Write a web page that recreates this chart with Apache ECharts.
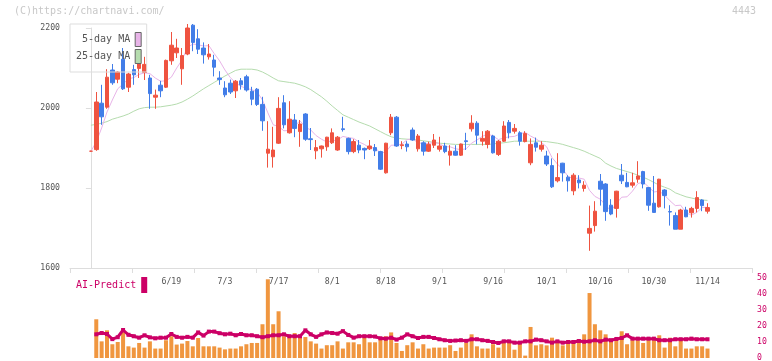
<!DOCTYPE html>
<html><head><meta charset="utf-8">
<script src="https://cdn.jsdelivr.net/npm/echarts@6/dist/echarts.min.js"></script>
<style>html,body{margin:0;padding:0;background:#fff}#c{width:772px;height:361px}</style>
</head><body><div id="c"></div>
<script>
const dates = ['5/29','5/30','6/2','6/3','6/4','6/5','6/6','6/9','6/10','6/11',
'6/12','6/13','6/16','6/17','6/18','6/19','6/20','6/23','6/24','6/25',
'6/26','6/27','6/30','7/1','7/2','7/3','7/4','7/7','7/8','7/9',
'7/10','7/11','7/14','7/15','7/16','7/17','7/18','7/22','7/23','7/24',
'7/25','7/28','7/29','7/30','7/31','8/1','8/4','8/5','8/6','8/7',
'8/8','8/12','8/13','8/14','8/15','8/18','8/19','8/20','8/21','8/22',
'8/25','8/26','8/27','8/28','8/29','9/1','9/2','9/3','9/4','9/5',
'9/8','9/9','9/10','9/11','9/12','9/16','9/17','9/18','9/19','9/22',
'9/24','9/25','9/26','9/29','9/30','10/1','10/2','10/3','10/6','10/7',
'10/8','10/9','10/10','10/14','10/15','10/16','10/17','10/20','10/21','10/22',
'10/23','10/24','10/27','10/28','10/29','10/30','10/31','11/4','11/5','11/6',
'11/7','11/10','11/11','11/12','11/13','11/14'];
const labelDates = ['6/19','7/3','7/17','8/1','8/18','9/1','9/16','10/1','10/16','10/30','11/14'];

const opens = [1892,1896,2012,2002,2095,2072,2122,2052,2096,2099,
2089,2075,2027,2057,2052,2118,2138,2098,2135,2207,
2173,2150,2128,2120,2075,2050,2062,2043,2068,2078,
2042,2047,2009,1887,1878,1912,2013,1938,1970,1941,
1985,1923,1893,1898,1903,1913,1895,1948,1924,1891,
1907,1899,1898,1901,1891,1838,1938,1977,1906,1910,
1945,1898,1913,1892,1907,1897,1905,1882,1892,1882,
1918,1948,1962,1917,1909,1930,1884,1917,1964,1942,
1938,1916,1863,1913,1897,1880,1856,1818,1862,1827,
1793,1820,1799,1687,1706,1817,1810,1757,1749,1832,
1814,1807,1822,1841,1801,1762,1753,1795,1741,1731,
1697,1745,1738,1749,1770,1742];
const closes = [1892,2015,1978,2077,2063,2090,2048,2085,2083,2116,
2109,2036,2032,2043,2119,2157,2150,2131,2200,2164,
2147,2133,2135,2102,2071,2033,2040,2067,2058,2045,
2022,2009,1968,1897,1895,1999,1958,1972,1949,1960,
1922,1921,1901,1905,1927,1938,1927,1946,1891,1916,
1895,1895,1905,1893,1847,1912,1977,1905,1908,1903,
1920,1930,1892,1909,1920,1905,1891,1892,1882,1910,
1916,1962,1932,1924,1942,1888,1917,1955,1938,1949,
1917,1936,1909,1902,1907,1860,1803,1826,1838,1818,
1832,1813,1807,1699,1742,1797,1741,1735,1792,1818,
1803,1813,1830,1810,1757,1739,1822,1781,1740,1697,
1745,1728,1749,1776,1756,1751];
const lows = [1891,1893,1958,1998,2058,2062,2045,2040,2058,2075,
2070,1998,1998,2027,2050,2108,2125,2058,2132,2142,
2135,2111,2121,2079,2058,2027,2035,2025,2046,2041,
2007,2005,1943,1851,1851,1910,1949,1936,1927,1903,
1918,1895,1872,1876,1893,1910,1893,1941,1884,1887,
1887,1872,1895,1880,1845,1836,1932,1903,1897,1891,
1918,1891,1881,1890,1900,1891,1887,1856,1881,1880,
1895,1941,1909,1906,1899,1886,1880,1915,1924,1936,
1906,1914,1857,1891,1891,1855,1800,1814,1816,1791,
1782,1799,1791,1643,1691,1756,1718,1732,1726,1810,
1802,1801,1813,1799,1743,1738,1751,1749,1706,1697,
1697,1727,1726,1739,1742,1736];
const highs = [1893,2040,2058,2097,2110,2092,2150,2088,2108,2126,
2128,2083,2046,2068,2121,2190,2173,2150,2210,2210,
2197,2164,2160,2133,2092,2067,2071,2070,2075,2083,
2053,2050,2028,1967,1953,2027,2032,2017,1985,1970,
1987,1950,1920,1906,1928,1949,1930,1978,1926,1922,
1920,1901,1920,1910,1893,1913,1985,1980,1917,1917,
1951,1935,1917,1916,1935,1928,1913,1907,1907,1911,
1938,1982,1967,1942,1945,1933,1920,1967,1970,1960,
1942,1942,1924,1926,1917,1893,1874,1887,1863,1832,
1837,1832,1817,1756,1767,1835,1812,1772,1793,1860,
1838,1838,1867,1843,1802,1830,1823,1797,1757,1739,
1748,1753,1753,1792,1772,1762];
const ma5 = [1892,1915,1950,1990,2020,2048,2060,2073,2076,2084,
2088,2086,2075,2067,2068,2077,2100,2120,2151,2160,
2158,2155,2156,2136,2118,2095,2076,2063,2054,2049,
2046,2040,2020,1988,1958,1954,1943,1944,1955,1968,
1952,1945,1931,1922,1915,1918,1920,1929,1926,1924,
1915,1909,1900,1901,1887,1890,1907,1907,1910,1921,
1923,1913,1911,1911,1914,1911,1903,1903,1898,1896,
1898,1912,1920,1929,1935,1930,1921,1925,1928,1929,
1935,1939,1930,1923,1914,1903,1876,1860,1847,1829,
1823,1825,1822,1794,1779,1772,1757,1743,1761,1777,
1778,1792,1811,1815,1803,1790,1792,1782,1768,1756,
1757,1738,1732,1739,1751,1752];
const ma25 = [1957,1959,1962,1966,1972,1976,1980,1985,1992,1998,
2001,2002,2002,2003,2005,2007,2010,2015,2022,2030,
2039,2048,2056,2064,2072,2080,2087,2094,2097,2097,
2097,2095,2090,2083,2075,2068,2066,2064,2062,2058,
2053,2046,2037,2028,2017,2005,1994,1983,1977,1971,
1965,1960,1955,1948,1941,1934,1928,1925,1923,1922,
1921,1920,1918,1916,1914,1912,1911,1910,1909,1909,
1909,1909,1909,1909,1909,1910,1912,1913,1915,1917,
1917,1917,1917,1917,1917,1916,1914,1912,1909,1905,
1901,1897,1892,1886,1880,1874,1862,1855,1849,1845,
1841,1837,1832,1827,1821,1814,1807,1802,1797,1788,
1783,1778,1775,1772,1770,1769];
const volume = [null,24.2,10.4,17.3,8.6,10.0,17.3,7.3,6.5,9.4,
6.5,10.4,5.9,5.9,11.1,13.6,8.4,9.0,10.6,7.3,
12.5,7.3,7.3,7.3,6.5,5.4,5.9,5.9,7.3,8.6,
9.4,9.4,21.1,49.2,21.1,29.2,13.6,12.5,15.6,12.7,
13.1,10.4,9.0,5.9,8.0,8.0,10.4,5.9,9.8,9.8,
8.6,12.7,9.8,9.8,12.1,13.6,16.0,9.4,4.4,8.0,
9.8,5.9,8.6,5.9,6.5,6.5,6.5,8.0,4.4,6.5,
9.4,14.8,7.3,5.9,5.9,8.6,6.5,9.4,11.1,5.2,
9.0,1.5,19.4,7.9,8.6,7.9,12.7,9.4,7.9,9.4,
11.1,11.5,14.8,40.6,21.1,17.3,14.8,11.1,11.1,16.7,
8.6,11.1,11.1,9.4,11.1,11.1,14.2,6.5,12.7,7.3,
11.1,5.9,5.9,7.3,7.3,5.9];
const aiPredict = [null,14.8,15.6,15.0,11.8,13.0,17.5,14.5,13.6,12.7,
14.2,12.9,12.3,12.7,12.7,15.0,13.2,12.7,13.2,12.7,
16.0,14.0,16.5,16.5,15.5,14.8,15.2,14.2,15.0,14.2,
14.2,13.6,13.0,13.6,14.2,14.2,14.8,13.6,13.6,13.6,
17.3,14.8,13.2,14.8,16.0,15.6,15.2,16.8,14.4,12.7,
13.6,13.6,13.6,13.4,12.3,12.1,12.7,11.5,12.7,14.8,
13.6,12.5,13.2,13.2,12.5,11.7,11.1,10.7,10.9,11.1,
10.7,11.7,11.7,11.1,10.7,10.0,9.4,10.4,10.4,9.6,
9.6,10.4,10.4,11.5,11.1,10.4,9.6,10.4,9.6,10.0,
10.0,10.6,10.2,10.4,11.1,10.4,11.5,11.1,11.9,12.5,
14.2,12.1,12.1,12.1,12.1,12.1,11.1,11.1,11.1,11.7,
11.7,11.7,12.1,11.7,11.7,11.7];

const MONO = 'DejaVu Sans Mono';
const UP = '#ef5340', DOWN = '#427de8', AI = '#cc0066';
const candleData = dates.map((d, i) => [i, opens[i], closes[i], lows[i], highs[i]]);
const pair = arr => arr.map((v, i) => [i, v]);
const labelIdx = labelDates.map(d => dates.indexOf(d));

const chart = echarts.init(document.getElementById('c'), null, {renderer: 'canvas', width: 772, height: 361});
chart.setOption({
  animation: false,
  backgroundColor: '#fff',
  title: [
    {text: '(C)https://chartnavi.com/', left: 14, top: 6, padding: 0,
     textStyle: {color: '#c8c8c8', fontSize: 10, fontFamily: MONO, fontWeight: 'normal'}},
    {text: '4443', right: 16, top: 6, padding: 0,
     textStyle: {color: '#c8c8c8', fontSize: 10, fontFamily: MONO, fontWeight: 'normal'}}
  ],
  legend: [
    {data: ['5-day MA', '25-day MA'], left: 70, top: 24, orient: 'vertical', align: 'right',
     icon: 'rect', itemWidth: 6, itemHeight: 14, itemGap: 2, padding: [8, 5, 8, 6],
     borderColor: '#ddd', borderWidth: 1, selectedMode: false,
     textStyle: {fontFamily: MONO, fontSize: 10, color: '#555'},
     itemStyle: {borderColor: '#666', borderWidth: 1}},
    {data: ['AI-Predict'], left: 76, top: 277, orient: 'horizontal', align: 'right',
     icon: 'rect', itemWidth: 6, itemHeight: 16, padding: 0, selectedMode: false,
     textStyle: {fontFamily: MONO, fontSize: 10, color: AI},
     itemStyle: {borderWidth: 0}}
  ],
  grid: [
    {left: 70, top: 28, width: 682, height: 240, outerBoundsMode: 'none'},
    {left: 70, top: 278, width: 682, height: 80, outerBoundsMode: 'none'}
  ],
  xAxis: [
    {type: 'value', gridIndex: 0, min: -3.9, max: 123.3, position: 'bottom',
     axisLine: {show: false}, axisTick: {show: false}, splitLine: {show: false},
     axisLabel: {customValues: labelIdx, formatter: v => dates[Math.round(v)] || '',
       color: '#555', fontSize: 8.2, fontFamily: MONO, margin: 10}},
    {type: 'value', gridIndex: 0, min: 0, max: 11, interval: 1, position: 'bottom',
     axisLine: {show: true, lineStyle: {color: '#ddd'}},
     axisTick: {show: true, length: 5, lineStyle: {color: '#ddd'}},
     axisLabel: {show: false}, splitLine: {show: false}},
    {type: 'value', gridIndex: 1, min: -3.9, max: 123.3, show: false, splitLine: {show: false}}
  ],
  yAxis: [
    {type: 'value', gridIndex: 0, min: 1600, max: 2200, interval: 200,
     axisLine: {show: true, lineStyle: {color: '#ddd'}},
     axisTick: {show: true, length: 5, lineStyle: {color: '#ddd'}},
     splitLine: {show: false},
     axisLabel: {color: '#555', fontSize: 8.2, fontFamily: MONO, margin: 10,
       formatter: v => String(v)}},
    {type: 'value', gridIndex: 1, position: 'right', min: 0, max: 50, interval: 10,
     axisLine: {show: false}, axisTick: {show: false}, splitLine: {show: false},
     axisLabel: {color: AI, fontSize: 8.2, fontFamily: MONO, margin: 5,
       formatter: v => String(v)}}
  ],
  series: [
    {name: '25-day MA', type: 'line', xAxisIndex: 0, yAxisIndex: 0, data: pair(ma25),
     showSymbol: false, symbol: 'none', color: '#b5dcae', lineStyle: {width: 1}, z: 2},
    {name: '5-day MA', type: 'line', xAxisIndex: 0, yAxisIndex: 0, data: pair(ma5),
     showSymbol: false, symbol: 'none', color: '#e8b4e8', lineStyle: {width: 1}, z: 2},
    {name: 'price', type: 'candlestick', xAxisIndex: 0, yAxisIndex: 0, data: candleData,
     barWidth: 4, clip: false, z: 3,
     itemStyle: {color: UP, color0: DOWN, borderColor: UP, borderColor0: DOWN,
       borderColorDoji: UP, borderWidth: 1}},
    {name: 'volume', type: 'bar', xAxisIndex: 2, yAxisIndex: 1, data: pair(volume),
     barWidth: 4, color: '#f0963f', z: 2},
    {name: 'AI-Predict', type: 'line', xAxisIndex: 2, yAxisIndex: 1, data: pair(aiPredict),
     color: AI, symbol: 'rect', symbolSize: 4, showSymbol: true,
     lineStyle: {width: 3, color: AI}, itemStyle: {color: AI}, z: 3}
  ]
});
</script>
</body></html>
